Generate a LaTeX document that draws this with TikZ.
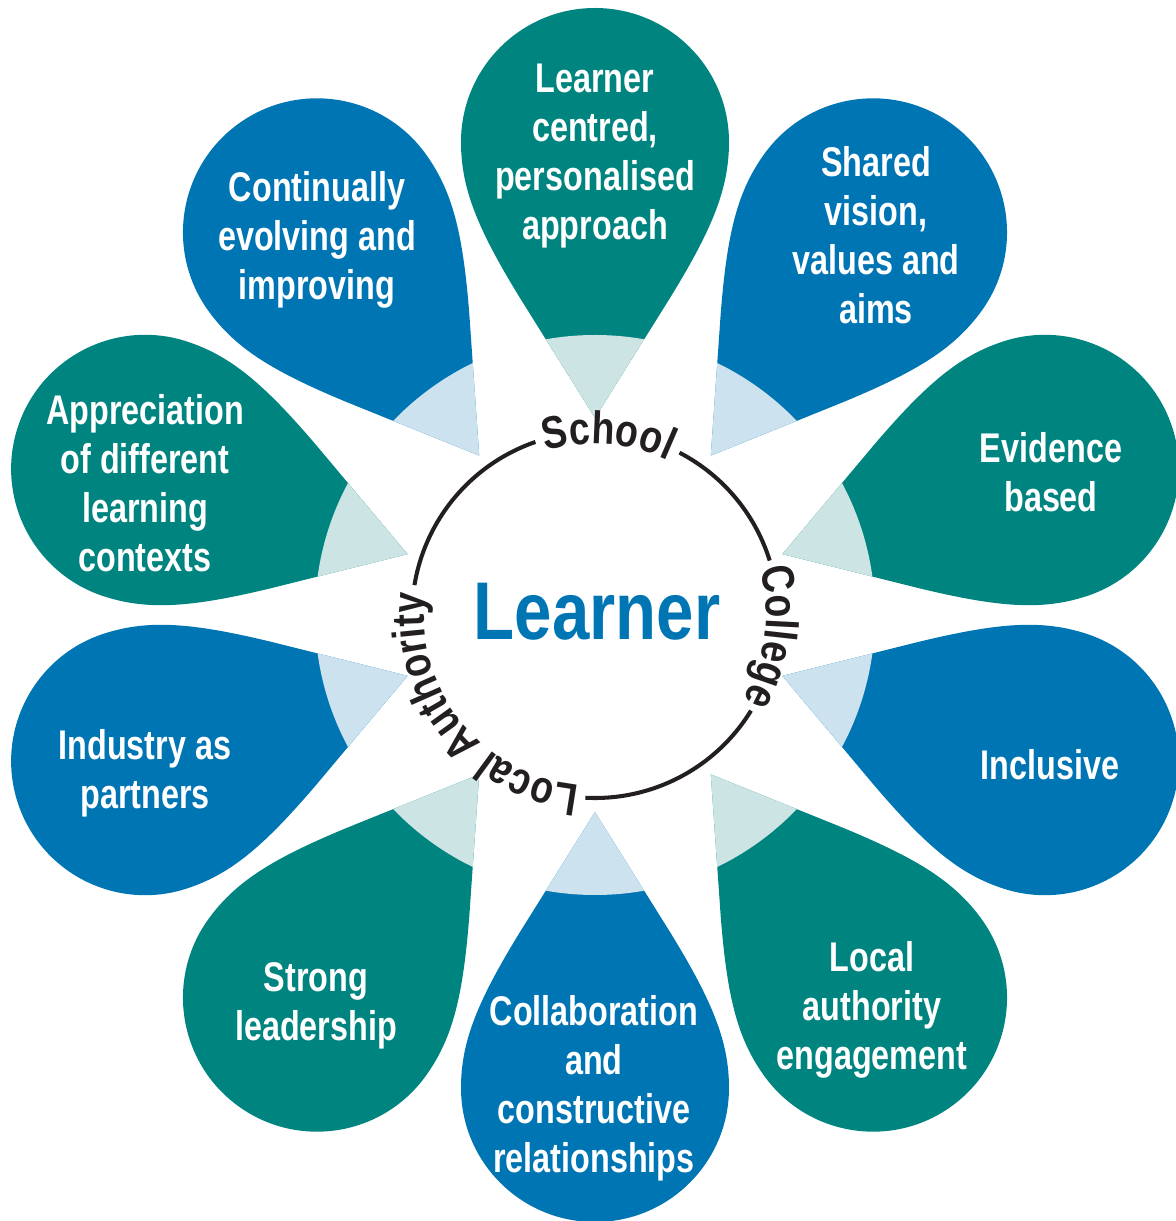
\documentclass[tikz,border=0pt]{standalone}
\usepackage{fontspec}
\setmainfont{Liberation Sans}[FakeStretch=0.78]
\newfontfamily\ringfont{Liberation Sans}[FakeStretch=0.82]
\usetikzlibrary{decorations.text}
\definecolor{petalteal}{HTML}{00847F}
\definecolor{petalblue}{HTML}{0075B4}
\definecolor{lightteal}{HTML}{CCE5E4}
\definecolor{lightblue}{HTML}{CCE2EF}
\definecolor{ringblack}{HTML}{231F20}
\tikzset{
  petalshape/.style={insert path={(1.97,0) -- (3.17,0.75) .. controls (3.87,1.18) and (4.27,1.34) .. (4.73,1.34)
    arc[start angle=90, end angle=-90, radius=1.34] .. controls (4.27,-1.34) and (3.87,-1.18) .. (3.17,-0.75) -- cycle}},
  petaltext/.style={text=white, align=center, inner sep=0pt, font=\fontsize{11.8}{13.9}\selectfont\bfseries},
  ring/.style={line width=1.15pt, draw=ringblack},
  ringtext/.style={decorate, decoration={text along path, text align=center,
    text={|\ringfont\bfseries\fontsize{13}{15}\selectfont\color{ringblack}|#1}}}
}

\begin{document}
\begin{tikzpicture}
	\useasboundingbox (-5.95,-6.06) rectangle (5.81,6.15);
	% petals
	\foreach \a/\c in {90/petalteal,54/petalblue,18/petalteal,-18/petalblue,-54/petalteal,
	                   -90/petalblue,-126/petalteal,-162/petalblue,162/petalteal,126/petalblue}
		\fill[\c, rotate=\a, petalshape];
	\begin{scope}
		\clip (0,0) circle (2.80);
		\foreach \a/\c in {90/lightteal,54/lightblue,18/lightteal,-18/lightblue,-54/lightteal,
		                   -90/lightblue,-126/lightteal,-162/lightblue,162/lightteal,126/lightblue}
			\fill[\c, rotate=\a, petalshape];
	\end{scope}
	% ring
	\draw[ring] (62.5:1.83) arc[start angle=62.5, end angle=17.3, radius=1.83];
	\draw[ring] (-31.5:1.83) arc[start angle=-31.5, end angle=-93, radius=1.83];
	\draw[ring] (170.6:1.83) arc[start angle=170.6, end angle=109, radius=1.83];
	\path[ringtext=School] (109:1.71) arc[start angle=109, end angle=62.5, radius=1.71];
	\path[ringtext=College] (17.3:1.71) arc[start angle=17.3, end angle=-31.5, radius=1.71];
	\path[ringtext=Local Authority] (-93:1.71) arc[start angle=-93, end angle=-189.4, radius=1.71];
	\node[text=petalblue, inner sep=0pt, font=\ringfont\bfseries\fontsize{23.3}{26}\selectfont] (hub) at (0.02,0.03) {Learner};
	% labels
	\node[petaltext] (approach) at (0,4.59) {Learner\\centred,\\personalised\\approach};
	\node[petaltext] (vision) at (2.81,3.80) {Shared\\vision,\\values and\\aims};
	\node[petaltext] (evidence) at (4.56,1.43) {Evidence\\based};
	\node[petaltext] (inclusive) at (4.55,-1.50) {Inclusive};
	\node[petaltext] (authority) at (2.77,-3.95) {Local\\authority\\engagement};
	\node[petaltext] (collab) at (-0.01,-4.73) {Collaboration\\and\\constructive\\relationships};
	\node[petaltext] (leadership) at (-2.79,-3.91) {Strong\\leadership};
	\node[petaltext] (industry) at (-4.50,-1.58) {Industry as\\partners};
	\node[petaltext] (contexts) at (-4.50,1.32) {Appreciation\\of different\\learning\\contexts};
	\node[petaltext] (improving) at (-2.78,3.75) {Continually\\evolving and\\improving};
\end{tikzpicture}
\end{document}
